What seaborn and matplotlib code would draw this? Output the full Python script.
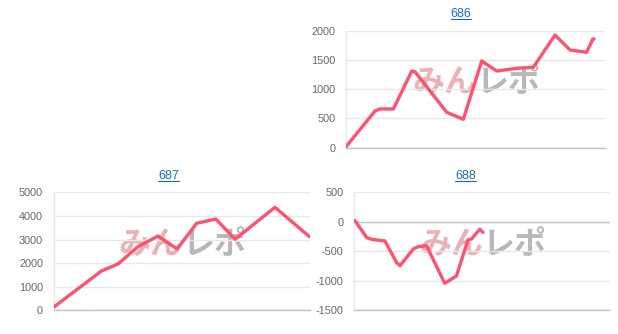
import matplotlib
matplotlib.use("Agg")
import matplotlib.pyplot as plt
import seaborn as sns
import pandas as pd
from matplotlib.lines import Line2D

# ---- data (t = progress along the shared x range) ----
titles = ["686", "687", "688"]

t_686 = [0, 11.2, 13.1, 18.3, 25.4, 26.6, 38.9, 45.3, 52.4, 58.2, 65.9, 72.3, 80.7, 86.5, 92.9, 95.3, 95.8]
v_686 = [17, 627, 662, 662, 1311, 1299, 605, 485, 1482, 1311, 1357, 1374, 1926, 1670, 1631, 1858, 1858]

t_687 = [0, 18.7, 25.2, 33.0, 40.8, 48.3, 55.9, 63.4, 70.9, 86.5, 100]
v_687 = [127, 1665, 1962, 2695, 3148, 2600, 3686, 3869, 3008, 4364, 3119]

t_688 = [0.4, 5.0, 6.9, 12.1, 16.7, 18.0, 23.2, 25.1, 28.4, 35.5, 40.1, 44.6, 46.0, 49.2, 50.5]
v_688 = [19, -269, -297, -325, -693, -744, -461, -422, -405, -1042, -919, -307, -290, -127, -178]

yticks_686 = [0, 500, 1000, 1500, 2000]
yticks_687 = [0, 1000, 2000, 3000, 4000, 5000]
yticks_688 = [-1500, -1000, -500, 0, 500]

# ---- style ----
sns.set_theme(style="white")
plt.rcParams["font.family"] = ["Liberation Sans", "Noto Sans CJK JP", "DejaVu Sans"]
plt.rcParams["axes.unicode_minus"] = False

W, H = 618, 334
fig = plt.figure(figsize=(W / 100, H / 100), dpi=100)

LINE = "#ff5271"
GRID = "#e8e8e8"
AXIS = "#c4c4c4"

def px_axes(left, right, top, bottom):
    return [left / W, (H - bottom) / H, (right - left) / W, (bottom - top) / H]

panels = [
    (titles[0], t_686, v_686, yticks_686, px_axes(346, 605, 30.7, 147.7), (461, 14)),
    (titles[1], t_687, v_687, yticks_687, px_axes(53.5, 309.5, 192.3, 310.3), (168.5, 176)),
    (titles[2], t_688, v_688, yticks_688, px_axes(354, 609.5, 192.3, 310.3), (465.5, 176)),
]

title_texts = []
for name, t, v, yt, rect, tpos in panels:
    ax = fig.add_axes(rect)
    df = pd.DataFrame({"t": t, "value": v})
    ax.text(0.505, 0.55, "みん", transform=ax.transAxes, ha="right", va="center",
            fontsize=23, fontweight="bold", color="#ebb1b6",
            family=["Noto Sans CJK JP", "DejaVu Sans"], zorder=0)
    ax.text(0.505, 0.55, "レポ", transform=ax.transAxes, ha="left", va="center",
            fontsize=23, fontweight="bold", color="#b8b8b8",
            family=["Noto Sans CJK JP", "DejaVu Sans"], zorder=0)
    sns.lineplot(data=df, x="t", y="value", sort=False, ax=ax, color=LINE,
                 linewidth=2.4, zorder=3)
    ax.set_xlim(0, 100)
    ax.set_ylim(yt[0], yt[-1])
    ax.set_yticks(yt)
    ax.set_yticklabels([str(y) for y in yt])
    ax.set_xticks([])
    ax.set_xlabel("")
    ax.set_ylabel("")
    ax.grid(axis="y", color=GRID, linewidth=1)
    ax.set_axisbelow(True)
    if yt[0] < 0 < yt[-1]:
        ax.axhline(0, color=AXIS, linewidth=1, zorder=1)
    for s in ["top", "right"]:
        ax.spines[s].set_visible(False)
    ax.spines["left"].set_color(GRID)
    ax.spines["left"].set_linewidth(1)
    ax.spines["bottom"].set_color(AXIS)
    ax.spines["bottom"].set_linewidth(1)
    ax.tick_params(axis="y", length=6.5, width=1, color=GRID, pad=1,
                   labelsize=7.8, labelcolor="#666666")
    tt = fig.text(tpos[0] / W, 1 - tpos[1] / H, name, ha="center", va="center",
                  fontsize=9, color="#1a6bc8")
    title_texts.append(tt)

# underline the link-style titles
fig.canvas.draw()
r = fig.canvas.get_renderer()
for tt in title_texts:
    bb = tt.get_window_extent(r)
    y = (bb.y0 + 1.5) / H
    fig.add_artist(Line2D([bb.x0 / W, bb.x1 / W], [y, y], color="#1a6bc8",
                          linewidth=0.8, transform=fig.transFigure))

fig.savefig("out.png", dpi=100)
